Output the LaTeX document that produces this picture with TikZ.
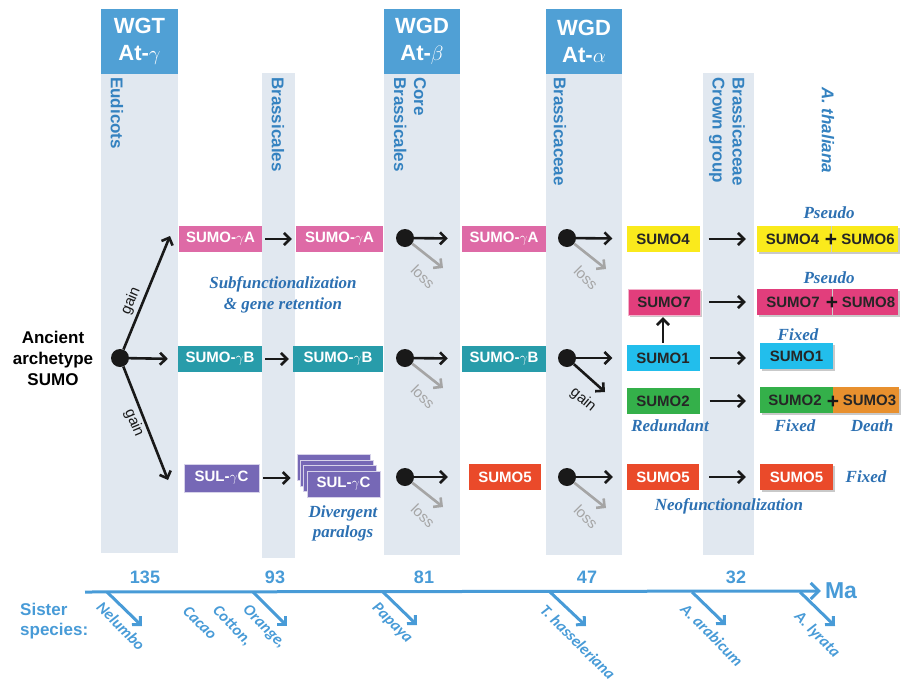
\documentclass[tikz,border=0pt]{standalone}
\usepackage{fontspec}
\setmainfont{Liberation Sans}
\newfontfamily\notefont{Liberation Serif}
\newfontfamily\spfont{Carlito}
\usepackage{tikz}
\usetikzlibrary{arrows.meta,shadows}

\definecolor{band}{RGB}{225,232,240}
\definecolor{head}{RGB}{80,160,213}
\definecolor{cladeblue}{RGB}{52,130,192}
\definecolor{noteblue}{RGB}{44,112,178}
\definecolor{axisblue}{RGB}{72,155,215}
\definecolor{colA}{RGB}{222,106,166}
\definecolor{colB}{RGB}{40,156,170}
\definecolor{colC}{RGB}{118,104,182}
\definecolor{sFive}{RGB}{234,74,42}
\definecolor{sFour}{RGB}{250,234,28}
\definecolor{sSeven}{RGB}{226,62,124}
\definecolor{sOne}{RGB}{34,190,236}
\definecolor{sTwo}{RGB}{52,176,74}
\definecolor{sThree}{RGB}{232,144,46}
\definecolor{lossgray}{RGB}{165,165,165}

\begin{document}
\begin{tikzpicture}[x=1pt, y=-1pt, >={Straight Barb[length=6pt,width=12pt]}]
\tikzstyle{box}=[minimum height=26pt, inner sep=0pt, text centered, font=\fontsize{15}{18}\selectfont\bfseries]
\tikzstyle{wbox}=[box, text=white]
\tikzstyle{kbox}=[box, text=black!85]
\tikzstyle{shbox}=[drop shadow={shadow xshift=2pt, shadow yshift=-2pt, opacity=0.3, fill=black!70}]
\tikzstyle{header}=[fill=head, text=white, minimum width=77pt, minimum height=65pt, inner sep=0pt, align=center, font=\fontsize{22}{27}\selectfont\bfseries]
\tikzstyle{cladelabel}=[rotate=-90, anchor=west, inner sep=0pt, text=cladeblue, align=left, font=\fontsize{17}{20}\selectfont\bfseries]
\tikzstyle{dot}=[circle, fill=black!90, minimum size=18pt, inner sep=0pt]
\tikzstyle{flow}=[->, line width=2.6pt, black!90]
\tikzstyle{loss}=[->, line width=2.6pt, lossgray]
\tikzstyle{losslabel}=[rotate=-45, text=lossgray, inner sep=0pt, font=\fontsize{15}{17}\selectfont]
\tikzstyle{gainlabel}=[text=black!90, inner sep=0pt, font=\fontsize{15}{17}\selectfont]
\tikzstyle{notetext}=[text=noteblue, align=center, inner sep=0pt, font=\notefont\fontsize{17}{21}\selectfont\bfseries\itshape]
\tikzstyle{axisline}=[line width=3pt, axisblue]
\tikzstyle{age}=[text=axisblue, inner sep=0pt, font=\fontsize{18}{20}\selectfont\bfseries]
\tikzstyle{species}=[rotate=-45, text=axisblue, inner sep=0pt, font=\spfont\fontsize{16}{18}\selectfont\bfseries\itshape]
\tikzstyle{plus}=[inner sep=0pt, text=black!90, font=\fontsize{21}{21}\selectfont\bfseries]

\useasboundingbox (0,0) rectangle (902,683);

% clade bands
\fill[band] (101,74) rectangle (178,553);
\fill[band] (262,73) rectangle (295,558);
\fill[band] (384,74) rectangle (460,555);
\fill[band] (546,74) rectangle (622,555);
\fill[band] (703,73) rectangle (754,555);

\node[header] (wgt) at (139.5,41.5) {WGT\\At-$\gamma$};
\node[header, minimum width=76pt] (wgdb) at (422,41.5) {WGD\\At-$\beta$};
\node[header, minimum width=76pt] (wgda) at (584,41.5) {WGD\\At-$\alpha$};

\node[cladelabel] (eud) at (117,77) {Eudicots};
\node[cladelabel] (brl) at (278,77) {Brassicales};
\node[cladelabel] (cbr) at (410,77) {Core\\Brassicales};
\node[cladelabel] (bce) at (560,77) {Brassicaceae};
\node[cladelabel] (bcg) at (727,77) {Brassicaceae\\Crown group};
\node[cladelabel, font=\fontsize{17}{20}\selectfont\bfseries\itshape] (ath) at (828,87) {A. thaliana};

% ancestor and first split
\node[align=center, inner sep=0pt, font=\fontsize{17}{21}\selectfont\bfseries] (anc) at (53,358) {Ancient\\archetype\\SUMO};
\node[dot] (root) at (120,358) {};

\node[wbox, fill=colA, minimum width=83pt] (gA1) at (220.5,239) {SUMO-$\gamma$A};
\node[wbox, fill=colB, minimum width=84pt] (gB1) at (220,359) {SUMO-$\gamma$B};
\node[wbox, fill=colC, draw=white!70!colC, minimum width=75pt, minimum height=28pt] (gC1) at (221.5,478) {SUL-$\gamma$C};

\coordinate (rA) at (170,236);
\coordinate (rC) at (168,480);
\draw[flow] (root) -- (rA);
\draw[flow, shorten >=10pt] (root) -- (gB1.west);
\draw[flow] (root) -- (rC);
\node[gainlabel, rotate=67] (gn1) at (131,301) {gain};
\node[gainlabel, rotate=-67] (gn2) at (134,423) {gain};

% Brassicales
\node[wbox, fill=colA, minimum width=87pt] (gA2) at (339.5,239) {SUMO-$\gamma$A};
\node[wbox, fill=colB, minimum width=90pt] (gB2) at (338,359) {SUMO-$\gamma$B};
\node[box, fill=colC, draw=white!70!colC, minimum width=73pt, minimum height=26pt] (stk3) at (333.3,467.5) {};
\node[box, fill=colC, draw=white!70!colC, minimum width=73pt, minimum height=26pt] (stk2) at (336.7,473) {};
\node[box, fill=colC, draw=white!70!colC, minimum width=73pt, minimum height=26pt] (stk1) at (340.1,478.5) {};
\node[wbox, fill=colC, draw=white!70!colC, minimum width=73pt, minimum height=26pt] (gC2) at (343.5,484) {SUL-$\gamma$C};

\draw[flow, shorten <=3pt, shorten >=4pt] (gA1) -- (gA2);
\draw[flow, shorten <=3pt, shorten >=4pt] (gB1) -- (gB2);
\draw[flow, shorten <=4pt, shorten >=6pt] (gC1.east) -- (gC1.east -| stk3.west);

\node[notetext] (sub) at (283,295) {Subfunctionalization\\\& gene retention};
\node[notetext, font=\notefont\fontsize{17}{20}\selectfont\bfseries\itshape] (div) at (343,523) {Divergent\\paralogs};

% Core Brassicales
\node[dot] (dA3) at (405,238) {};
\node[dot] (dB3) at (405,358) {};
\node[dot] (dC3) at (405,477) {};
\node[wbox, fill=colA, minimum width=84pt] (gA3) at (504,239) {SUMO-$\gamma$A};
\node[wbox, fill=colB, minimum width=84pt] (gB3) at (504,359) {SUMO-$\gamma$B};
\node[wbox, fill=sFive, minimum width=72pt] (s5a) at (505,477) {SUMO5};

\draw[flow, shorten >=14pt] (dA3) -- (gA3);
\draw[flow, shorten >=14pt] (dB3) -- (gB3);
\draw[flow, shorten >=21pt] (dC3) -- (s5a);
\coordinate (lA3) at (443,268);
\coordinate (lB3) at (443,388);
\coordinate (lC3) at (443,507);
\draw[loss] (dA3) -- (lA3);
\draw[loss] (dB3) -- (lB3);
\draw[loss] (dC3) -- (lC3);
\node[losslabel] (xA3) at (423,277) {loss};
\node[losslabel] (xB3) at (423,397) {loss};
\node[losslabel] (xC3) at (423,516) {loss};

% Brassicaceae
\node[dot] (dA4) at (567,238) {};
\node[dot] (dB4) at (567,358) {};
\node[dot] (dC4) at (567,477) {};
\node[kbox, fill=sFour, minimum width=73pt] (s4) at (663,239) {SUMO4};
\node[kbox, fill=sSeven, draw=white!60!sSeven, shbox, minimum width=72pt] (s7) at (664,302) {SUMO7};
\node[kbox, fill=sOne, minimum width=73pt] (s1) at (663,358) {SUMO1};
\node[kbox, fill=sTwo, minimum width=73pt] (s2) at (663,401) {SUMO2};
\node[wbox, fill=sFive, minimum width=72pt] (s5b) at (663,477) {SUMO5};

\draw[flow, shorten >=14pt] (dA4) -- (s4);
\draw[flow, shorten >=14pt] (dB4) -- (s1);
\draw[flow, shorten >=14pt] (dC4) -- (s5b);
\coordinate (lA4) at (606,269);
\coordinate (gB4) at (605,392);
\coordinate (lC4) at (606,508);
\draw[loss] (dA4) -- (lA4);
\draw[flow] (dB4) -- (gB4);
\draw[loss] (dC4) -- (lC4);
\node[losslabel] (xA4) at (586,278) {loss};
\node[gainlabel, rotate=-40] (gn3) at (583,400) {gain};
\node[losslabel] (xC4) at (586,517) {loss};
\draw[flow, shorten <=2pt, shorten >=2pt] (s1) -- (s1 |- s7.south);

\node[notetext] (red) at (670,426) {Redundant};
\node[notetext] (neo) at (729,506) {Neofunctionalization};

% A. thaliana
\node[kbox, fill=sFour, shbox, minimum width=74pt] (s4f) at (794,239) {SUMO4\hspace*{3pt}};
\node[kbox, fill=sFour, shbox, minimum width=67pt] (s6) at (864.5,239) {\hspace*{7pt}SUMO6};
\node[kbox, fill=sSeven, shbox, minimum width=75pt] (s7f) at (794.5,302) {SUMO7\hspace*{3pt}};
\node[kbox, fill=sSeven, shbox, minimum width=66pt] (s8) at (865,302) {\hspace*{7pt}SUMO8};
\node[kbox, fill=sOne, shbox, minimum width=73pt] (s1f) at (796.5,356) {SUMO1};
\node[kbox, fill=sTwo, shbox, minimum width=73pt] (s2f) at (796.5,400) {SUMO2\hspace*{3pt}};
\node[kbox, fill=sThree, shbox, minimum width=66pt] (s3) at (866,400) {\hspace*{7pt}SUMO3};
\node[wbox, fill=sFive, shbox, minimum width=73pt] (s5f) at (796.5,477) {SUMO5};
\draw[white!80!black, line width=0.8pt] (s4f.north east) -- (s4f.south east);
\draw[white!80!black, line width=0.8pt] (s7f.north east) -- (s7f.south east);
\node[plus] (pl1) at (831,240) {+};
\node[plus] (pl2) at (832,303) {+};
\node[plus] (pl3) at (833,402) {+};

\draw[flow, shorten <=9pt, shorten >=11pt] (s4) -- (s4f);
\draw[flow, shorten <=9pt, shorten >=11pt] (s7) -- (s7f);
\draw[flow, shorten <=10pt, shorten >=14pt] (s1) -- (s1 -| s1f.west);
\draw[flow, shorten <=10pt, shorten >=14pt] (s2) -- (s2 -| s2f.west);
\draw[flow, shorten <=10pt, shorten >=14pt] (s5b) -- (s5f);

\node[notetext] (ps1) at (829,213) {Pseudo};
\node[notetext] (ps2) at (829,278) {Pseudo};
\node[notetext] (fx1) at (798,335) {Fixed};
\node[notetext] (fx2) at (795,426) {Fixed};
\node[notetext] (dth) at (872,426) {Death};
\node[notetext] (fx3) at (866,477) {Fixed};

% time axis
\coordinate (t0) at (85,592);
\node[inner sep=0pt, text=axisblue, font=\fontsize{23}{26}\selectfont\bfseries] (ma) at (841,591) {Ma};
\draw[axisline, ->, >={Straight Barb[length=8pt,width=16pt]}, shorten >=4pt] (t0) -- (ma.west);

\node[age] (a135) at (145,577) {135};
\node[age] (a93) at (275,577) {93};
\node[age] (a81) at (424,577) {81};
\node[age] (a47) at (587,577) {47};
\node[age] (a32) at (736,577) {32};

\node[align=left, anchor=west, inner sep=0pt, text=axisblue, font=\fontsize{17}{20}\selectfont\bfseries] (sis) at (20,621) {Sister\\species:};

\coordinate (b1) at (107,592); \coordinate (e1) at (142,626);
\coordinate (b2) at (253,592); \coordinate (e2) at (287,626);
\coordinate (b3) at (383,592); \coordinate (e3) at (417,625);
\coordinate (b4) at (550,592); \coordinate (e4) at (586,626);
\coordinate (b5) at (692,592); \coordinate (e5) at (726,625);
\coordinate (b6) at (800,592); \coordinate (e6) at (835,626);
\draw[axisline, ->] (b1) -- (e1);
\draw[axisline, ->] (b2) -- (e2);
\draw[axisline, ->] (b3) -- (e3);
\draw[axisline, ->] (b4) -- (e4);
\draw[axisline, ->] (b5) -- (e5);
\draw[axisline, ->] (b6) -- (e6);

\node[species] (nel) at (121,626) {Nelumbo};
\node[species] (cac) at (200,623) {Cacao};
\node[species] (cot) at (232,626) {Cotton,};
\node[species] (ora) at (264,627) {Orange,};
\node[species] (pap) at (392,623) {Papaya};
\node[species] (tha) at (578,642) {T. hasseleriana};
\node[species] (ara) at (712,635) {A. arabicum};
\node[species] (lyr) at (817,635) {A. lyrata};
\end{tikzpicture}
\end{document}
